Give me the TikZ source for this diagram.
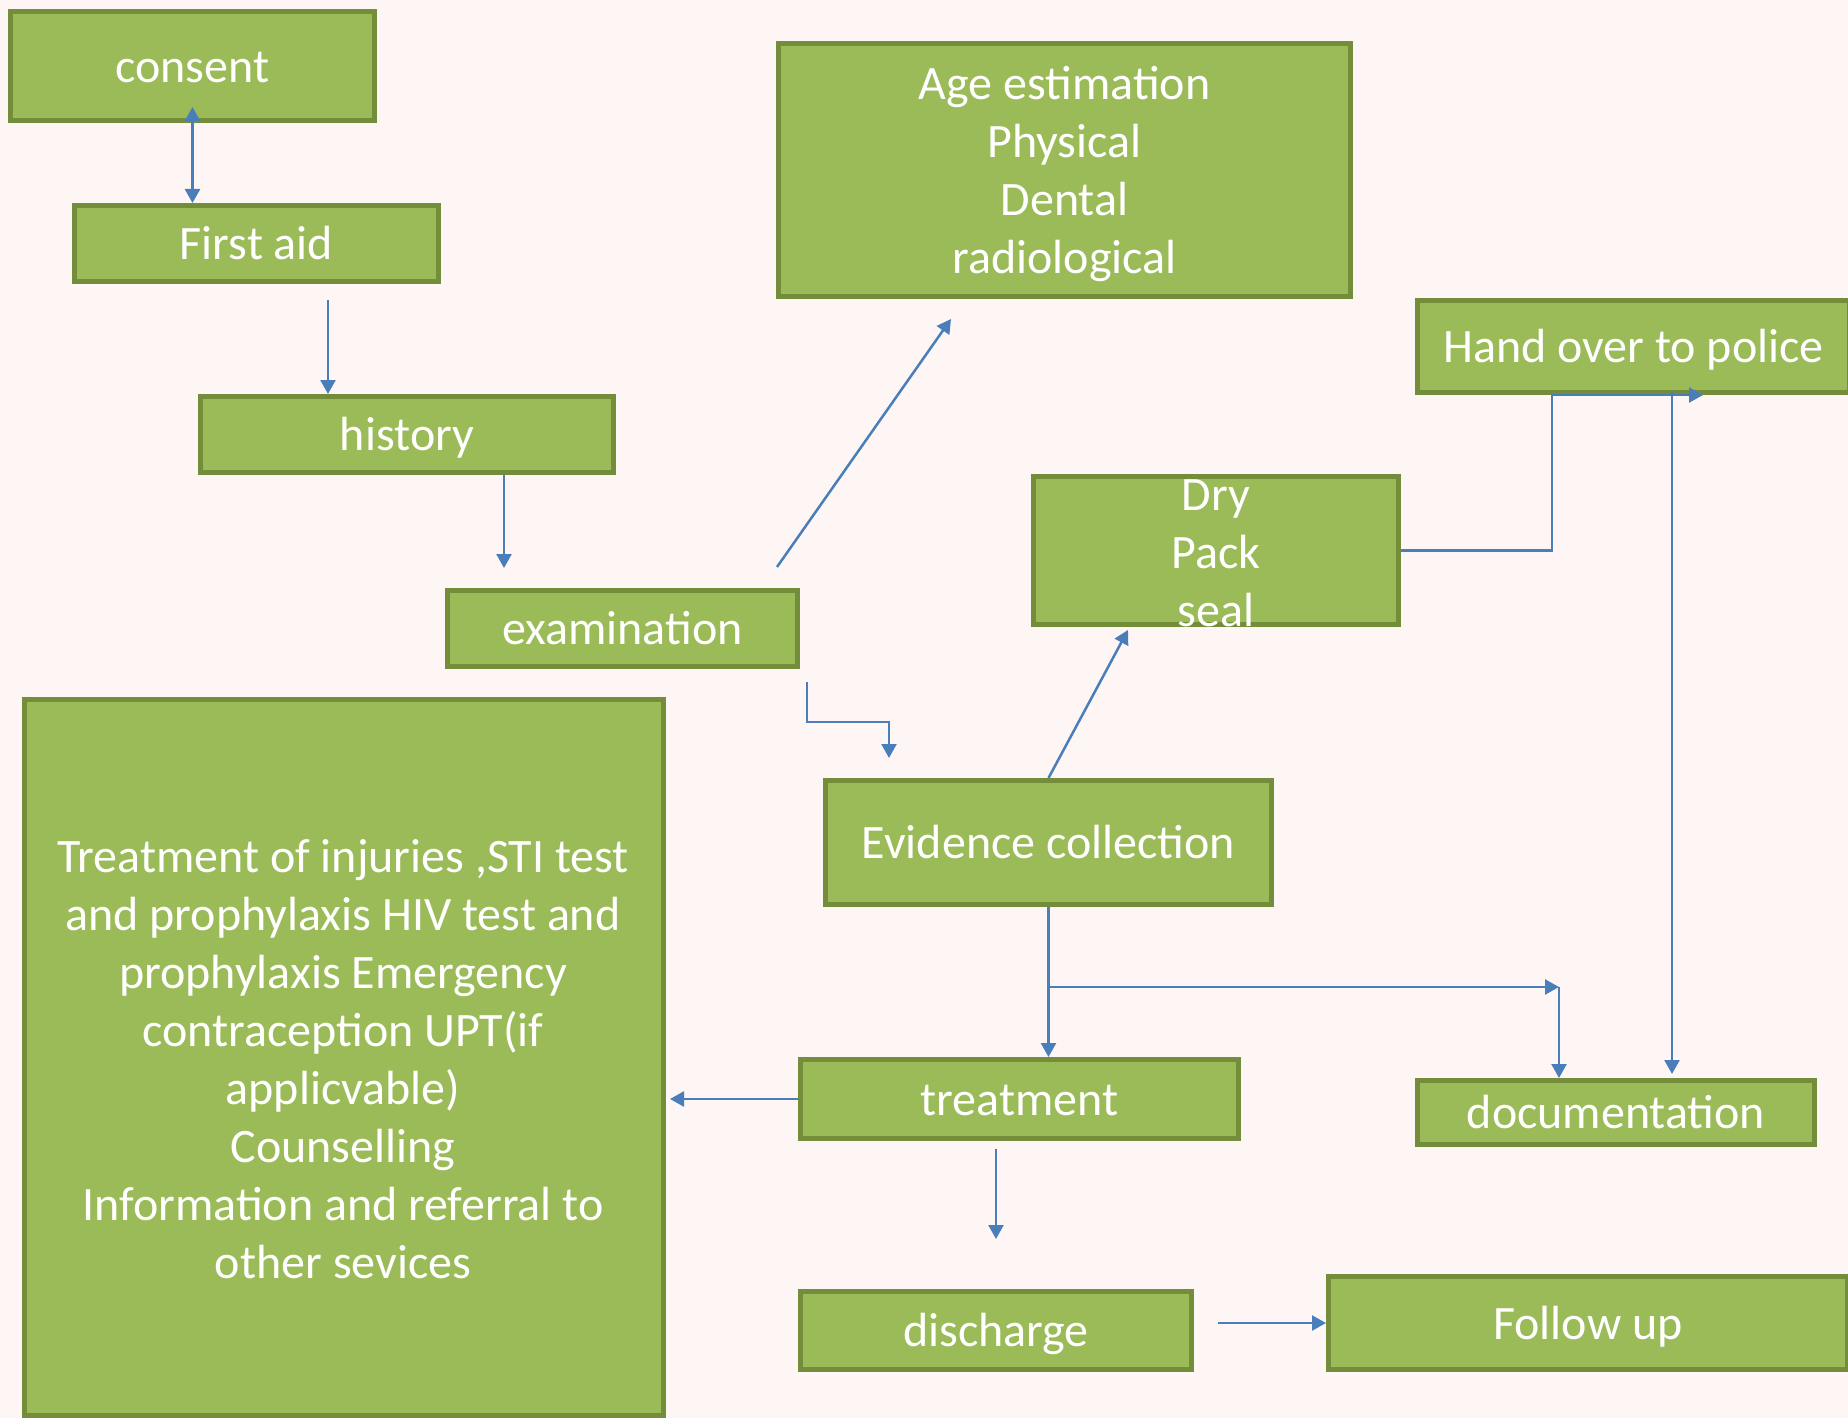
\documentclass[tikz,border=0pt]{standalone}
\usepackage{fontspec}
\setmainfont{Carlito}
\usetikzlibrary{arrows.meta}
\definecolor{bgc}{HTML}{FEF6F4}
\definecolor{gfill}{HTML}{9BBB59}
\definecolor{gline}{HTML}{738D3B}
\definecolor{acol}{HTML}{4A7EBB}
\tikzset{
  gbox/.style={draw=gline, fill=gfill, line width=2.5pt, rectangle, inner sep=0pt,
    text=white, font=\fontsize{24pt}{29pt}\selectfont, align=center},
  one/.style={text height=22.85pt, text depth=6.45pt},
  wtext/.style={text=white, font=\fontsize{24pt}{29pt}\selectfont, align=center, inner sep=0pt},
  arr/.style={draw=acol, line width=1.25pt, -{Triangle[length=7pt,width=7.5pt]}},
}
\begin{document}
\begin{tikzpicture}[x=0.5pt,y=-0.5pt]
\path[fill=bgc] (0,0) rectangle (1848,1418);
\useasboundingbox (0,0) rectangle (1848,1418);
\clip (0,0) rectangle (1848,1418);
% boxes
\node[gbox,one,minimum width=182pt,minimum height=54.5pt] (consent) at (192.5,66) {consent};
\node[gbox,one,minimum width=182pt,minimum height=38pt] (firstaid) at (256.5,243.5) {First aid};
\node[gbox,one,minimum width=206.5pt,minimum height=38pt] (history) at (407,434.5) {history};
\node[gbox,one,minimum width=175pt,minimum height=38pt] (exam) at (622.5,628.5) {examination};
\node[gbox,minimum width=286pt,minimum height=126.5pt] (age) at (1064.5,170) {};
\node[wtext] (agetext) at (1064.5,174) {Age estimation\\Physical\\Dental\\radiological};
\node[gbox,one,minimum width=216pt,minimum height=46pt] (police) at (1633.5,346.5) {Hand over to police};
\node[gbox,minimum width=182.5pt,minimum height=74pt] (dry) at (1216,550.5) {};
\node[wtext] (drytext) at (1216,553) {Dry\\Pack\\seal};
\node[gbox,one,minimum width=223pt,minimum height=62pt] (evidence) at (1048.5,842.5) {Evidence collection};
\node[gbox,minimum width=319.5pt,minimum height=358pt] (bigbox) at (344,1057.5) {};
\node[wtext] (bigtext) at (343,1059.5)
  {Treatment of injuries ,STI test\\and prophylaxis HIV test and\\prophylaxis Emergency\\contraception UPT(if\\applicvable)\\Counselling\\Information and referral to\\other sevices};
\node[gbox,one,minimum width=219pt,minimum height=39.5pt] (treatment) at (1019.5,1099) {treatment};
\node[gbox,one,minimum width=198.5pt,minimum height=32pt] (documentation) at (1616,1112.5) {documentation};
\node[gbox,one,minimum width=195.5pt,minimum height=39pt] (discharge) at (996,1330.5) {discharge};
\node[gbox,one,minimum width=259.5pt,minimum height=46.5pt] (followup) at (1588,1323) {Follow up};
% connectors
\draw[arr,{Triangle[length=7pt,width=7.5pt]}-{Triangle[length=7pt,width=7.5pt]}]
  ([yshift=8pt]consent.south) -- (consent.south |- firstaid.north);
\draw[arr,shorten <=8pt] ([xshift=35.75pt]firstaid.south) -- ([xshift=35.75pt]firstaid.south |- history.north);
\draw[arr,shorten >=10pt] ([xshift=48.5pt]history.south) -- ([xshift=48.5pt]history.south |- exam.north);
\draw[arr] ([shift={(77.25pt,10.5pt)}]exam.north) -- ([shift={(-56.75pt,-10pt)}]age.south);
\draw[arr] ([shift={(92.25pt,-6.5pt)}]exam.south) -- ++(0,-20pt) -| ([shift={(-79.75pt,10pt)}]evidence.north);
\draw[arr] (evidence.north) -- ([shift={(-44pt,-1.5pt)}]dry.south);
\draw[arr] (dry.east) -| ([xshift=-40.75pt]police.south) -- ([xshift=34.75pt]police.south);
\draw[arr] ([shift={(19.25pt,2pt)}]police.south) -- ([shift={(19.25pt,2pt)}]police.south |- documentation.north);
\draw[arr] (evidence.south) -- (evidence.south |- treatment.north);
\coordinate (split) at ([yshift=-40pt]evidence.south);
\coordinate (docin) at ([xshift=-28.5pt]documentation.north);
\draw[arr] (split) -- (split -| docin);
\draw[arr] (split -| docin) -- (docin);
\draw[arr,shorten >=2pt] (treatment.west) -- (treatment.west -| bigbox.east);
\draw[arr,shorten <=4pt,shorten >=25pt] (discharge.north |- treatment.south) -- (discharge.north);
\draw[arr,shorten <=12pt] (followup.west -| discharge.east) -- (followup.west);
\end{tikzpicture}
\end{document}
